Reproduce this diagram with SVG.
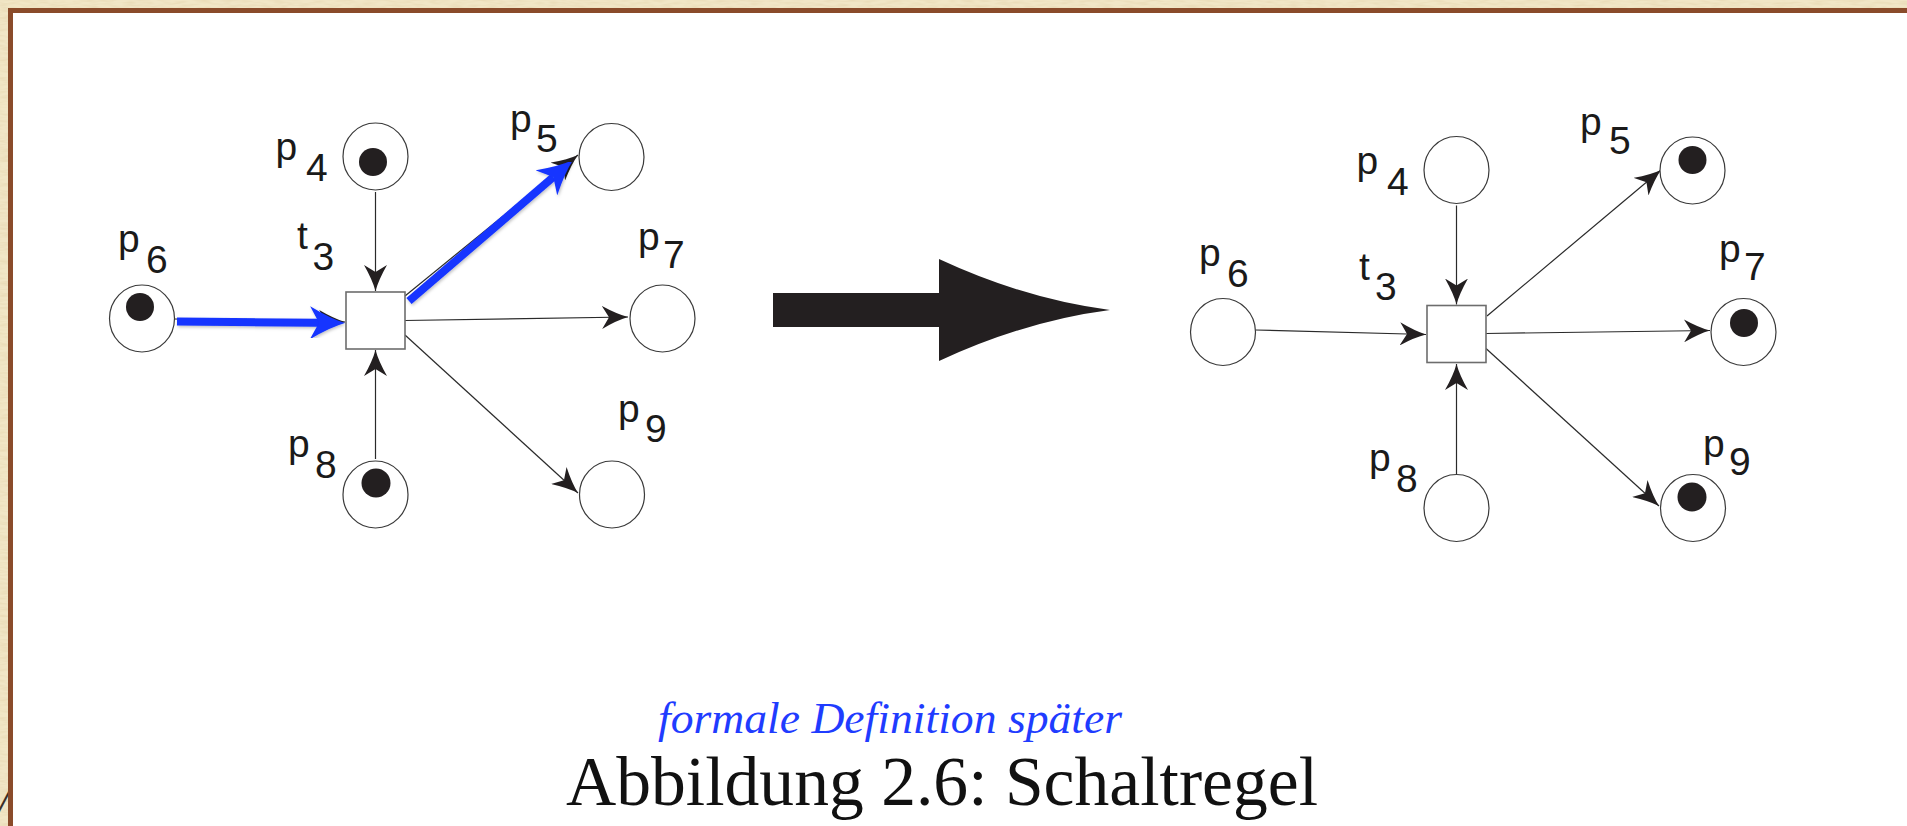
<svg xmlns="http://www.w3.org/2000/svg" width="1907" height="826" viewBox="0 0 1907 826">
  <defs>
    <style>
      .place { fill: #ffffff; stroke: #3a3a3a; stroke-width: 1.2; }
      .token { fill: #231f20; }
      .trans { fill: #ffffff; stroke: #6d6d6d; stroke-width: 1.6; }
      .arc { fill: none; stroke: #2a2a2a; stroke-width: 1.2; marker-end: url(#head); }
      .hot { fill: none; stroke: #1434ff; stroke-width: 8; marker-end: url(#bluehead); }
      .lbl { font-family: "Liberation Sans", Arial, Helvetica, sans-serif; font-size: 39px; fill: #1a1a1a; }
      .note { font-family: "Liberation Serif", "Times New Roman", serif; font-style: italic; font-size: 45px; fill: #1f3cff; }
      .caption { font-family: "Liberation Serif", "Times New Roman", serif; font-size: 70px; fill: #111111; }
    </style>
    <marker id="head" markerUnits="userSpaceOnUse" viewBox="0 0 26 23" markerWidth="26" markerHeight="23" refX="26" refY="11.5" orient="auto">
      <path d="M26,11.5 Q15,8.5 0,0 L7,11.5 L0,23 Q15,14.5 26,11.5 Z" fill="#231f20"/>
    </marker>
    <marker id="bluehead" markerUnits="userSpaceOnUse" viewBox="0 0 35 33" markerWidth="35" markerHeight="33" refX="9" refY="16.5" orient="auto">
      <path d="M35,16.5 Q21,12.5 0,0 L9,16.5 L0,33 Q21,20.5 35,16.5 Z" fill="#1434ff"/>
    </marker>
    <filter id="grain" x="0" y="0" width="100%" height="100%">
      <feTurbulence type="fractalNoise" baseFrequency="0.08 0.4" numOctaves="2" seed="7" result="n"/>
      <feColorMatrix in="n" type="matrix" values="0 0 0 0 0.78  0 0 0 0 0.66  0 0 0 0 0.42  1.2 0 0 0 -0.45"/>
    </filter>
    <filter id="shade" x="-10%" y="-10%" width="120%" height="120%">
      <feDropShadow dx="1" dy="1.5" stdDeviation="1.5" flood-color="#000000" flood-opacity="0.25"/>
    </filter>
  </defs>

  <!-- parchment margin and framed page -->
  <rect x="0" y="0" width="1907" height="826" fill="#f1e6c6"/>
  <rect x="0" y="0" width="1907" height="826" filter="url(#grain)"/>
  <text x="10" y="815" text-anchor="end" font-family="Liberation Serif, serif" font-style="italic" font-size="44" fill="#3a3028">7/</text>
  <rect x="13" y="13" width="1894" height="813" fill="#ffffff"/>
  <rect x="8" y="8" width="1899" height="5" fill="#8a4b2a"/>
  <rect x="8" y="8" width="5" height="818" fill="#8a4b2a"/>

  <!-- connectors -->
  <g id="connectors">
    <!-- before firing -->
    <path class="arc" d="M375.5,192 L375.5,291"/>
    <path class="arc" d="M375.5,459 L375.5,350"/>
    <path class="arc" d="M174,319 L345,322"/>
    <path class="arc" d="M405,296 L578,155"/>
    <path class="arc" d="M405,320.5 L628,317"/>
    <path class="arc" d="M405,335 L578,493"/>
    <g filter="url(#shade)">
      <path class="hot" d="M177,321.5 L319,322.8"/>
      <path class="hot" d="M409,301 L553.3,177"/>
    </g>
    <!-- after firing -->
    <path class="arc" d="M1456.5,205.5 L1456.5,304.5"/>
    <path class="arc" d="M1456.5,474 L1456.5,364"/>
    <path class="arc" d="M1255.5,330 L1426,334.5"/>
    <path class="arc" d="M1487,316 L1661,170"/>
    <path class="arc" d="M1486,333.5 L1710,330.5"/>
    <path class="arc" d="M1486,348.5 L1659,506"/>
    <!-- firing arrow -->
    <path d="M773,293 H939 V259 Q1025,299 1110,310 Q1025,321 939,361 V327 H773 Z" fill="#231f20"/>
  </g>

  <!-- net before firing -->
  <g id="a-p4"><ellipse class="place" cx="375.5" cy="156.5" rx="32.5" ry="33.5"/><circle class="token" cx="373" cy="162" r="14"/>
    <text class="lbl" x="275.5" y="160">p</text><text class="lbl" x="306" y="181">4</text></g>
  <g id="a-p5"><ellipse class="place" cx="611.5" cy="157" rx="32.5" ry="33.5"/>
    <text class="lbl" x="510" y="132">p</text><text class="lbl" x="536" y="152">5</text></g>
  <g id="a-p6"><ellipse class="place" cx="142" cy="318.5" rx="32.5" ry="33.5"/><circle class="token" cx="140" cy="307" r="14"/>
    <text class="lbl" x="118" y="252">p</text><text class="lbl" x="146" y="273">6</text></g>
  <g id="a-p7"><ellipse class="place" cx="662.5" cy="318.5" rx="32.5" ry="33.5"/>
    <text class="lbl" x="638" y="250">p</text><text class="lbl" x="663" y="268">7</text></g>
  <g id="a-p8"><ellipse class="place" cx="375.5" cy="494.5" rx="32.5" ry="33.5"/><circle class="token" cx="376" cy="483" r="14.5"/>
    <text class="lbl" x="288" y="457">p</text><text class="lbl" x="315" y="478">8</text></g>
  <g id="a-p9"><ellipse class="place" cx="612" cy="494.5" rx="32.5" ry="33.5"/>
    <text class="lbl" x="618" y="422">p</text><text class="lbl" x="645" y="442">9</text></g>
  <g id="a-t3"><rect class="trans" x="346" y="292" width="59" height="57"/>
    <text class="lbl" x="297" y="249">t</text><text class="lbl" x="312.5" y="270">3</text></g>

  <!-- net after firing -->
  <g id="b-p4"><ellipse class="place" cx="1456.5" cy="170" rx="32.5" ry="33.5"/>
    <text class="lbl" x="1356.5" y="173.5">p</text><text class="lbl" x="1387" y="194.5">4</text></g>
  <g id="b-p5"><ellipse class="place" cx="1692.5" cy="170.5" rx="32.5" ry="33.5"/><circle class="token" cx="1692.5" cy="160" r="14"/>
    <text class="lbl" x="1580" y="135">p</text><text class="lbl" x="1609" y="154">5</text></g>
  <g id="b-p6"><ellipse class="place" cx="1223" cy="332" rx="32.5" ry="33.5"/>
    <text class="lbl" x="1199" y="265.5">p</text><text class="lbl" x="1227" y="286.5">6</text></g>
  <g id="b-p7"><ellipse class="place" cx="1743.5" cy="332" rx="32.5" ry="33.5"/><circle class="token" cx="1744" cy="323" r="14"/>
    <text class="lbl" x="1719" y="262">p</text><text class="lbl" x="1744" y="280">7</text></g>
  <g id="b-p8"><ellipse class="place" cx="1456.5" cy="508" rx="32.5" ry="33.5"/>
    <text class="lbl" x="1369" y="470.5">p</text><text class="lbl" x="1396" y="491.5">8</text></g>
  <g id="b-p9"><ellipse class="place" cx="1693" cy="508" rx="32.5" ry="33.5"/><circle class="token" cx="1692" cy="497" r="14.5"/>
    <text class="lbl" x="1703" y="457">p</text><text class="lbl" x="1729" y="475">9</text></g>
  <g id="b-t3"><rect class="trans" x="1427" y="305.5" width="59" height="57"/>
    <text class="lbl" x="1359" y="280">t</text><text class="lbl" x="1375" y="300">3</text></g>

  <!-- annotation and caption -->
  <text class="note" x="658" y="733" textLength="464" lengthAdjust="spacingAndGlyphs">formale Definition später</text>
  <text class="caption" x="566" y="805" textLength="752" lengthAdjust="spacingAndGlyphs">Abbildung 2.6: Schaltregel</text>
</svg>
